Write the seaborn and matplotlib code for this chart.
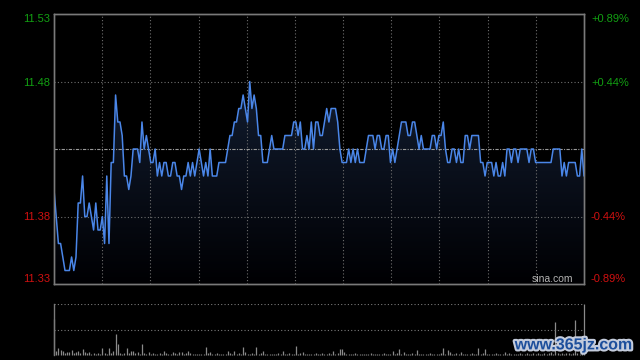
import numpy as np
import pandas as pd
import seaborn as sns
import matplotlib
matplotlib.use("Agg")
import matplotlib.pyplot as plt
import matplotlib.patheffects as pe

# minute-by-minute price (09:30 .. 15:00, lunch break removed)
price = [
    11.40, 11.38, 11.36, 11.36, 11.35, 11.34, 11.34, 11.34, 11.35, 11.34, 11.35, 11.39, 11.39, 11.41, 11.38, 11.38, 11.39, 11.38, 11.37, 11.39,
    11.37, 11.37, 11.38, 11.36, 11.41, 11.36, 11.42, 11.42, 11.47, 11.45, 11.45, 11.44, 11.41, 11.41, 11.40, 11.41, 11.43, 11.43, 11.43, 11.42,
    11.45, 11.43, 11.44, 11.43, 11.42, 11.42, 11.43, 11.41, 11.42, 11.41, 11.42, 11.42, 11.41, 11.41, 11.42, 11.42, 11.41, 11.41, 11.40, 11.41,
    11.41, 11.42, 11.41, 11.42, 11.41, 11.42, 11.43, 11.42, 11.41, 11.42, 11.41, 11.43, 11.41, 11.41, 11.41, 11.42, 11.42, 11.42, 11.42, 11.43,
    11.44, 11.44, 11.45, 11.45, 11.46, 11.46, 11.47, 11.46, 11.45, 11.48, 11.46, 11.47, 11.46, 11.44, 11.44, 11.42, 11.42, 11.42, 11.43, 11.44,
    11.43, 11.43, 11.43, 11.43, 11.43, 11.44, 11.44, 11.44, 11.44, 11.45, 11.45, 11.44, 11.45, 11.43, 11.43, 11.44, 11.43, 11.45, 11.43, 11.45,
    11.45, 11.44, 11.44, 11.45, 11.46, 11.45, 11.46, 11.46, 11.46, 11.45, 11.43, 11.42, 11.42, 11.42, 11.43, 11.42, 11.43, 11.42, 11.43, 11.42,
    11.42, 11.42, 11.43, 11.44, 11.44, 11.44, 11.43, 11.44, 11.44, 11.43, 11.43, 11.44, 11.44, 11.42, 11.43, 11.42, 11.43, 11.44, 11.45, 11.45,
    11.45, 11.44, 11.44, 11.45, 11.45, 11.44, 11.43, 11.44, 11.43, 11.43, 11.43, 11.43, 11.44, 11.44, 11.43, 11.44, 11.44, 11.45, 11.43, 11.42,
    11.42, 11.43, 11.43, 11.42, 11.43, 11.42, 11.42, 11.44, 11.44, 11.43, 11.44, 11.44, 11.44, 11.44, 11.42, 11.42, 11.41, 11.42, 11.42, 11.42,
    11.41, 11.42, 11.41, 11.41, 11.42, 11.41, 11.43, 11.43, 11.42, 11.43, 11.43, 11.42, 11.43, 11.43, 11.43, 11.43, 11.42, 11.43, 11.43, 11.42,
    11.42, 11.42, 11.42, 11.42, 11.42, 11.42, 11.42, 11.43, 11.43, 11.43, 11.43, 11.41, 11.42, 11.41, 11.42, 11.42, 11.42, 11.42, 11.41, 11.41,
    11.43, 11.41,
]

# volume, relative (max = 100)
volume = [
    70, 8, 13, 10, 8, 3, 5, 5, 10, 4, 5, 7, 3, 11, 6, 3, 6, 2, 3, 2,
    3, 2, 13, 3, 2, 13, 3, 8, 42, 22, 3, 2, 3, 13, 3, 7, 7, 3, 6, 2,
    22, 3, 2, 6, 2, 3, 2, 2, 3, 2, 8, 3, 2, 2, 6, 3, 2, 6, 6, 2,
    3, 8, 4, 2, 2, 1, 2, 2, 2, 15, 3, 6, 2, 2, 3, 2, 2, 1, 2, 8,
    3, 2, 8, 2, 3, 2, 15, 5, 2, 2, 3, 2, 15, 2, 3, 8, 2, 1, 2, 2,
    1, 2, 3, 2, 8, 2, 2, 3, 2, 2, 18, 2, 3, 6, 2, 2, 1, 2, 2, 3,
    2, 2, 3, 2, 2, 3, 2, 8, 2, 3, 11, 11, 6, 2, 1, 2, 2, 3, 1, 2,
    2, 1, 2, 2, 3, 2, 1, 2, 2, 2, 3, 2, 1, 2, 8, 2, 3, 11, 2, 5,
    2, 1, 2, 3, 2, 9, 2, 2, 1, 2, 2, 3, 2, 1, 2, 2, 3, 13, 2, 10,
    5, 2, 2, 3, 2, 5, 2, 1, 2, 2, 3, 2, 2, 13, 2, 3, 11, 2, 1, 2,
    2, 3, 2, 1, 2, 6, 2, 3, 2, 2, 1, 2, 3, 2, 2, 3, 2, 2, 4, 2,
    3, 2, 2, 3, 2, 3, 5, 2, 65, 3, 2, 4, 2, 3, 3, 2, 3, 68, 3, 2,
    4, 100,
]

prev_close = 11.43
price_ticks = [11.33, 11.38, 11.48, 11.53]
price_labels = ["11.33", "11.38", "11.48", "11.53"]
pct_labels = ["-0.89%", "-0.44%", "+0.44%", "+0.89%"]
label_colors = ["#d01010", "#d01010", "#12a012", "#12a012"]

minutes = np.arange(len(price))
n_last = len(price) - 1

sns.set_style("dark", {"axes.facecolor": "black", "figure.facecolor": "black"})
plt.rcParams["font.family"] = ["Liberation Sans", "DejaVu Sans"]

fig = plt.figure(figsize=(6.4, 3.6), dpi=100)
fig.patch.set_facecolor("black")
ax = fig.add_axes([54 / 640, 1 - 284 / 360, 530 / 640, 270 / 360])
axv = fig.add_axes([54 / 640, 1 - 355 / 360, 530 / 640, 51 / 360])

df = pd.DataFrame({"minute": minutes, "price": price})
sns.lineplot(data=df, x="minute", y="price", ax=ax, color="#4a86e8", lw=1.1, zorder=5)

# gradient fill under the price line
poly = ax.fill_between(minutes, price, 11.33, facecolor="none", edgecolor="none")
grad = np.linspace(1, 0, 256)[:, None, None]
top = np.array([0.075, 0.12, 0.20])
bot = np.array([0.0, 0.0, 0.01])
img = bot + (top - bot) * grad
im = ax.imshow(img, extent=[0, n_last, 11.33, 11.49], aspect="auto", origin="upper", zorder=1)
im.set_clip_path(poly.get_paths()[0], transform=ax.transData)

ax.set_xlim(0, n_last)
ax.set_ylim(11.33, 11.53)
ax.grid(False)
ax.set_xlabel("")
ax.set_ylabel("")
ax.set_xticks([])
ax.set_yticks(price_ticks)
ax.set_yticklabels(price_labels)
ax.tick_params(axis="y", length=0, pad=3, labelsize=8)
for lbl, c in zip(ax.get_yticklabels(), label_colors):
    lbl.set_color(c)
ax.get_yticklabels()[0].set_va("bottom")
ax.get_yticklabels()[-1].set_va("top")

grid_kw = dict(color="#6e6e6e", ls=(0, (1, 2)), lw=0.8, zorder=2)
for y in [11.38, 11.48]:
    ax.axhline(y, **grid_kw)
ax.axhline(prev_close, color="#9a9a9a", ls=(0, (3, 1.2, 1, 1.2)), lw=0.8, zorder=2)
for xv in np.linspace(0, n_last, 12)[1:-1]:
    ax.axvline(xv, **grid_kw)

for s in ax.spines.values():
    s.set_visible(True)
    s.set_color("#7a7a7a")
    s.set_linewidth(1)

axr = ax.twinx()
axr.set_ylim(11.33, 11.53)
axr.set_yticks(price_ticks)
axr.set_yticklabels(pct_labels)
axr.tick_params(axis="y", length=0, pad=5, labelsize=8)
axr.grid(False)
for lbl, c in zip(axr.get_yticklabels(), label_colors):
    lbl.set_color(c)
axr.get_yticklabels()[0].set_va("bottom")
axr.get_yticklabels()[-1].set_va("top")
for s in axr.spines.values():
    s.set_visible(True)
    s.set_color("#7a7a7a")
    s.set_linewidth(1)

ax.text(0.979, 0.02, "sina.com", transform=ax.transAxes, ha="right", va="center",
        fontsize=7.5, color="#b4b4b4", zorder=6)

# volume panel
axv.set_facecolor("black")
axv.vlines(minutes, 0, volume, color="#8a8a8a", lw=0.9, clip_on=False)
axv.set_xlim(0, n_last)
axv.set_ylim(0, 100)
axv.grid(False)
axv.set_xticks([])
axv.set_yticks([])
for y in [50, 100]:
    axv.axhline(y, color="#7a7a7a", ls=(0, (1, 2)), lw=0.8)
for name, s in axv.spines.items():
    s.set_visible(name == "left")
    s.set_color("#7a7a7a")
    s.set_linewidth(1)

fig.text(0.989, 0.042, "www.365jz.com", ha="right", va="center", fontsize=11.5,
         fontweight="bold", color="#1d4f9c",
         path_effects=[pe.withStroke(linewidth=3, foreground="#c4ccdc")])

fig.savefig("out.png", dpi=100, facecolor="black")
